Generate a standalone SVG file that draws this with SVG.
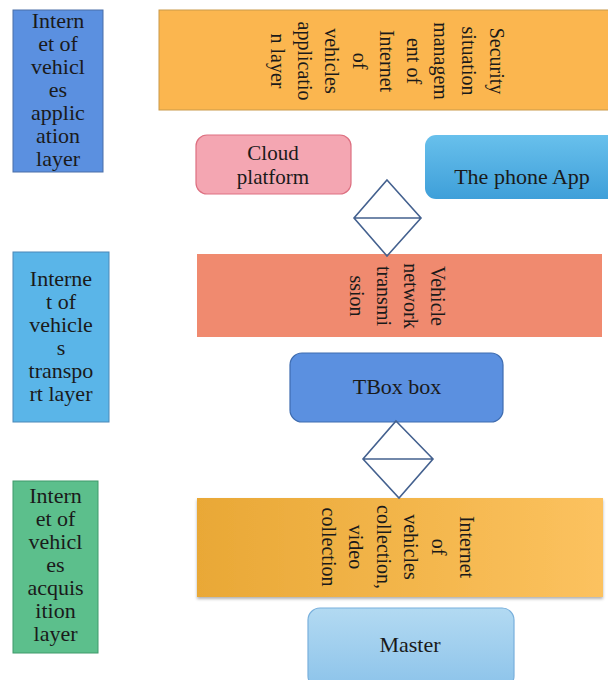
<svg xmlns="http://www.w3.org/2000/svg" width="608" height="680" viewBox="0 0 608 680" font-family="'Liberation Serif', serif">
<defs>
<style>
text{font-family:'Liberation Serif',serif;fill:#1a1a1a}
.lt{font-size:22px;text-anchor:middle}
.vt{font-size:20px;text-anchor:middle;dominant-baseline:central}
.ct{font-size:21px;text-anchor:middle}
.bt{font-size:22px;text-anchor:middle}
.dia{fill:none;stroke:#44618f;stroke-width:1.6;stroke-linejoin:miter}
</style>
<linearGradient id="gPhone" x1="0" y1="0" x2="0" y2="1"><stop offset="0" stop-color="#68c0ec"/><stop offset="1" stop-color="#3e9fd9"/></linearGradient>
<linearGradient id="gMaster" x1="0" y1="0" x2="0" y2="1"><stop offset="0" stop-color="#b3daf2"/><stop offset="1" stop-color="#8cc3ea"/></linearGradient>
<linearGradient id="gColl" x1="0" y1="0" x2="1" y2="0"><stop offset="0" stop-color="#e9a836"/><stop offset="1" stop-color="#fcc25f"/></linearGradient>
<filter id="sh" x="-5%" y="-5%" width="110%" height="115%"><feDropShadow dx="0" dy="2" stdDeviation="1.5" flood-color="#000" flood-opacity="0.3"/></filter>
</defs>
<rect width="608" height="680" fill="#ffffff"/>

<g id="app-layer">
<rect x="13" y="10" width="90" height="162" fill="#5b90e0" stroke="#4a6fa8" stroke-width="1"/>
<text class="lt" x="58" y="28" font-family="Liberation Serif">Intern</text>
<text class="lt" x="58" y="51" font-family="Liberation Serif">et of</text>
<text class="lt" x="58" y="74" font-family="Liberation Serif">vehicl</text>
<text class="lt" x="58" y="97" font-family="Liberation Serif">es</text>
<text class="lt" x="58" y="120" font-family="Liberation Serif">applic</text>
<text class="lt" x="58" y="143" font-family="Liberation Serif">ation</text>
<text class="lt" x="58" y="166" font-family="Liberation Serif">layer</text>
</g>

<g id="security">
<rect x="159" y="10" width="452" height="100" fill="#fbb64f" stroke="#c99a4a" stroke-width="1"/>
<text class="vt" transform="translate(497,61) rotate(90)">Security</text>
<text class="vt" transform="translate(469,61) rotate(90)">situation</text>
<text class="vt" transform="translate(441,61) rotate(90)">managem</text>
<text class="vt" transform="translate(414,61) rotate(90)">ent of</text>
<text class="vt" transform="translate(387,61) rotate(90)">Internet</text>
<text class="vt" transform="translate(360,61) rotate(90)">of</text>
<text class="vt" transform="translate(332,61) rotate(90)">vehicles</text>
<text class="vt" transform="translate(305,61) rotate(90)">applicatio</text>
<text class="vt" transform="translate(278,61) rotate(90)">n layer</text>
</g>

<g id="cloud">
<rect x="196" y="135" width="155" height="59" rx="11" fill="#f4a6b2" stroke="#dd7081" stroke-width="1.2"/>
<text class="ct" x="273" y="160" font-family="Liberation Serif">Cloud</text>
<text class="ct" x="273" y="184" font-family="Liberation Serif">platform</text>
</g>

<g id="phone">
<rect x="425" y="135" width="195" height="64" rx="11" fill="url(#gPhone)"/>
<text class="bt" x="522" y="184" font-family="Liberation Serif">The phone App</text>
</g>

<g id="transport-layer">
<rect x="13" y="252" width="96" height="170" fill="#5ab5e8" stroke="#4a88b8" stroke-width="1"/>
<text class="lt" x="61" y="286" font-family="Liberation Serif">Interne</text>
<text class="lt" x="61" y="309" font-family="Liberation Serif">t of</text>
<text class="lt" x="61" y="332" font-family="Liberation Serif">vehicle</text>
<text class="lt" x="61" y="355" font-family="Liberation Serif">s</text>
<text class="lt" x="61" y="378" font-family="Liberation Serif">transpo</text>
<text class="lt" x="61" y="401" font-family="Liberation Serif">rt layer</text>
</g>

<g id="network">
<rect x="197" y="254" width="405" height="83" fill="#f08a6f"/>
<text class="vt" transform="translate(438,296) rotate(90)">Vehicle</text>
<text class="vt" transform="translate(411,296) rotate(90)">network</text>
<text class="vt" transform="translate(384,296) rotate(90)">transmi</text>
<text class="vt" transform="translate(357,296) rotate(90)">ssion</text>
</g>

<g id="tbox">
<rect x="290" y="353" width="213" height="69" rx="12" fill="#5b90e0" stroke="#3e6cb0" stroke-width="1.2"/>
<text class="bt" x="397" y="394" font-family="Liberation Serif">TBox box</text>
</g>

<g id="acq-layer">
<rect x="13" y="481" width="85" height="172" fill="#5cbf8c" stroke="#3f9a6a" stroke-width="1"/>
<text class="lt" x="55.5" y="503" font-family="Liberation Serif">Intern</text>
<text class="lt" x="55.5" y="526" font-family="Liberation Serif">et of</text>
<text class="lt" x="55.5" y="549" font-family="Liberation Serif">vehicl</text>
<text class="lt" x="55.5" y="572" font-family="Liberation Serif">es</text>
<text class="lt" x="55.5" y="595" font-family="Liberation Serif">acquis</text>
<text class="lt" x="55.5" y="618" font-family="Liberation Serif">ition</text>
<text class="lt" x="55.5" y="641" font-family="Liberation Serif">layer</text>
</g>

<g id="collection">
<rect x="197" y="498" width="406" height="99" fill="url(#gColl)" filter="url(#sh)"/>
<text class="vt" transform="translate(467,547) rotate(90)">Internet</text>
<text class="vt" transform="translate(439,547) rotate(90)">of</text>
<text class="vt" transform="translate(411,547) rotate(90)">vehicles</text>
<text class="vt" transform="translate(384,547) rotate(90)">collection,</text>
<text class="vt" transform="translate(356,547) rotate(90)">video</text>
<text class="vt" transform="translate(329,547) rotate(90)">collection</text>
</g>

<g id="master">
<rect x="308" y="608" width="206" height="80" rx="12" fill="url(#gMaster)" stroke="#79b0dc" stroke-width="1.2"/>
<text class="bt" x="410" y="652" font-family="Liberation Serif">Master</text>
</g>

<g id="connectors">
<path class="dia" d="M387 180 L421 218 L387 256 L354 218 Z M354 218 L421 218"/>
<path class="dia" d="M396 421 L433 459 L399 498 L363 459 Z M363 459 L433 459"/>
</g>
</svg>
